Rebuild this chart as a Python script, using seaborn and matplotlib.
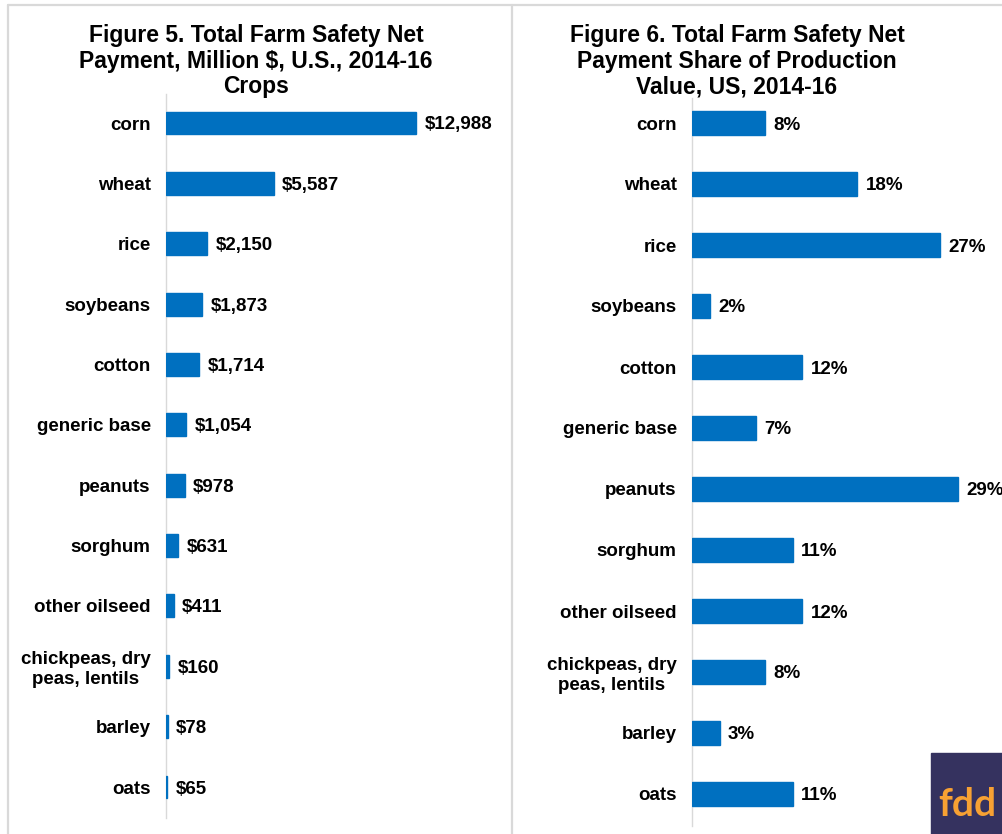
import matplotlib
matplotlib.use("Agg")
import matplotlib.pyplot as plt
from matplotlib.lines import Line2D
from matplotlib.patches import Rectangle
import pandas as pd
import seaborn as sns

# Crops shown in both panels (top to bottom)
crops = ["corn", "wheat", "rice", "soybeans", "cotton", "generic base",
         "peanuts", "sorghum", "other oilseed", "chickpeas, dry\npeas, lentils",
         "barley", "oats"]

# Figure 5: total payments, million dollars, 2014-16
payments = [12988, 5587, 2150, 1873, 1714, 1054, 978, 631, 411, 160, 78, 65]

# Figure 6: payments as a share of production value, percent
shares = [8, 18, 27, 2, 12, 7, 29, 11, 12, 8, 3, 11]

title_left = "Figure 5. Total Farm Safety Net\nPayment, Million $, U.S., 2014-16\nCrops"
title_right = "Figure 6. Total Farm Safety Net\nPayment Share of Production\nValue, US, 2014-16"

BLUE = "#0070c0"
GRID = "#d9d9d9"
W, H = 1003, 834
LABEL_SIZE = 13.5

sns.set_theme(style="white")
plt.rcParams["font.family"] = ["Liberation Sans", "DejaVu Sans"]
plt.rcParams["font.weight"] = "bold"

fig = plt.figure(figsize=(W / 100, H / 100), dpi=100)
fig.patch.set_facecolor("white")


def px_axes(left, top, right, bottom):
    return fig.add_axes([left / W, 1 - bottom / H, (right - left) / W, (bottom - top) / H])


def draw_panel(ax, values, labels, xmax, first_c, last_c, top, bottom):
    df = pd.DataFrame({"crop": crops, "value": values})
    sns.barplot(data=df, x="value", y="crop", orient="h", color=BLUE,
                saturation=1, width=0.38, ax=ax, edgecolor=BLUE, linewidth=1.0)
    # map category positions to pixel rows
    step = (last_c - first_c) / (len(crops) - 1)
    y_top = -(first_c - top) / step
    y_bot = (len(crops) - 1) + (bottom - last_c) / step
    ax.set_ylim(y_bot, y_top)
    ax.set_xlim(0, xmax)
    ax.set_xlabel("")
    ax.set_ylabel("")
    ax.set_xticks([])
    for s in ["top", "right", "bottom"]:
        ax.spines[s].set_visible(False)
    ax.spines["left"].set_color(GRID)
    ax.spines["left"].set_linewidth(1.0)
    ax.spines["left"].set_zorder(0.5)
    ax.tick_params(axis="y", length=0, pad=11, labelsize=LABEL_SIZE, labelcolor="black")
    for t in ax.get_yticklabels():
        t.set_fontweight("bold")
        t.set_multialignment("center")
    texts = ax.bar_label(ax.containers[0], labels=labels, padding=6,
                         fontsize=LABEL_SIZE, fontweight="bold", color="black",
                         clip_on=False)
    for t in texts:
        t.set_va("center_baseline")
    ax.set_facecolor("none")


# Left panel: payments
ax1 = px_axes(166, 94, 500, 818)
draw_panel(ax1, payments, [f"${v:,}" for v in payments],
           12988 * (500 - 166) / (416 - 166), 123, 787, 94, 818)

# Right panel: share of production value
ax2 = px_axes(692, 98, 1003, 826)
draw_panel(ax2, shares, [f"{v}%" for v in shares],
           29 * (1003 - 692) / (958 - 692), 123, 794, 98, 826)

# Panel titles
for cx, title in [(256, title_left), (737, title_right)]:
    fig.text(cx / W, 1 - 24 / H, title, ha="center", va="top",
             fontsize=16.5, fontweight="bold", linespacing=1.14, color="black")

# Frame lines around the two panels
fig.add_artist(Line2D([8 / W, 1], [1 - 5 / H, 1 - 5 / H], transform=fig.transFigure,
                      color=GRID, lw=1.6))
fig.add_artist(Line2D([8.5 / W, 8.5 / W], [0, 1 - 5 / H], transform=fig.transFigure,
                      color=GRID, lw=1.6))
fig.add_artist(Line2D([512 / W, 512 / W], [0, 1 - 5 / H], transform=fig.transFigure,
                      color=GRID, lw=1.6))

# fdd badge in the corner
fig.add_artist(Rectangle((931 / W, 0), (W - 931) / W, (H - 753) / H,
                         transform=fig.transFigure, color="#35325f", zorder=5))
fig.text(938 / W, (H - 816) / H, "fdd", ha="left", va="baseline",
         fontsize=28, fontweight="bold", color="#f7a133",
         family=["Lato", "DejaVu Sans"], zorder=6)

fig.savefig("out.png", dpi=100)
